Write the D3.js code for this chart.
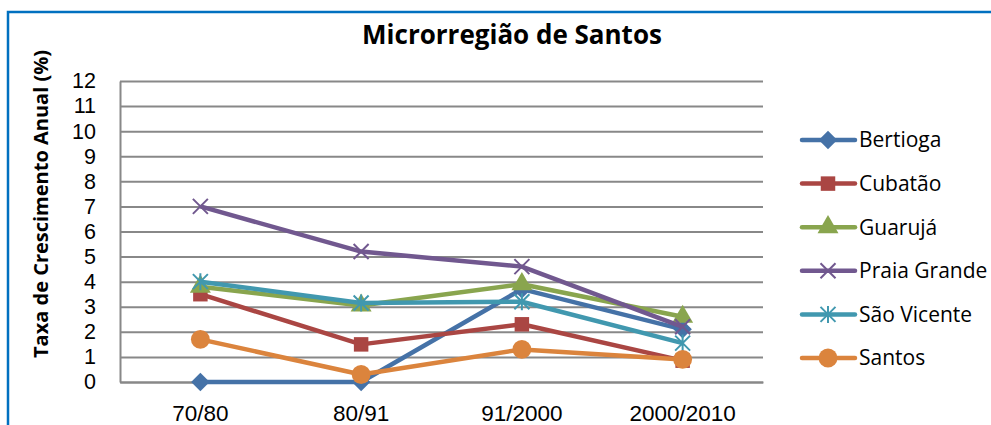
<!DOCTYPE html>
<html>
<head>
<meta charset="utf-8">
<script src="https://cdn.jsdelivr.net/npm/d3@7"></script>
<style>
  body { margin:0; background:#fff; }
  text { font-family: "Open Sans", "Liberation Sans", sans-serif; }
  .tick text { font-family: "Liberation Sans", sans-serif; }
</style>
</head>
<body>
<div id="chart"></div>
<script>
// Microrregião de Santos - d3 line chart

var periods = ["70/80", "80/91", "91/2000", "2000/2010"];
var yTicks = [0,1,2,3,4,5,6,7,8,9,10,11,12];

var bertioga = [0, 0, 3.7, 2.1];
var cubatao = [3.5, 1.5, 2.3, 0.85];
var guaruja = [3.8, 3.05, 3.9, 2.6];
var praiaGrande = [7.0, 5.2, 4.6, 2.2];
var saoVicente = [4.0, 3.15, 3.2, 1.55];
var santos = [1.7, 0.3, 1.3, 0.9];

var names = ["Bertioga", "Cubatão", "Guarujá", "Praia Grande", "São Vicente", "Santos"];
var colors = ["#4572A7", "#AA4643", "#89A54E", "#71588F", "#4198AF", "#DB843D"];
var symbols = ["diamond", "square", "triangle", "x", "star", "circle"];

var series = [bertioga, cubatao, guaruja, praiaGrande, saoVicente, santos].map(function(vals, i){
    return {name:names[i], values:vals, color:colors[i], symbol:symbols[i]};
});

var W = 991, H = 425;
var plot = {left:120, top:81, right:763, bottom:382};

var svg = d3.select("#chart").append("svg")
    .attr("width", W)
    .attr("height", H);

svg.append("rect").attr("width", W).attr("height", H).attr("fill", "#fff");

// outer frame
svg.append("rect")
    .attr("x", 8).attr("y", 12)
    .attr("width", 1000).attr("height", 440)
    .attr("fill", "none")
    .attr("stroke", "#0070C0")
    .attr("stroke-width", 2.5);

var x = d3.scaleBand()
    .domain(periods)
    .range([plot.left, plot.right]);

var y = d3.scaleLinear()
    .domain([0, 12])
    .range([plot.bottom, plot.top]);

//grid lines
svg.append("g")
    .attr("class", "grid")
    .attr("transform", "translate(" + plot.left + ",0)")
    .call(d3.axisLeft(y).tickValues(yTicks)
        .tickSize(-(plot.right - plot.left))
        .tickFormat(""))
    .call(function(g){
        g.select(".domain").remove();
        g.selectAll("line").attr("stroke", "#888").attr("stroke-width", 2);
    });

//y axis
var yAxis = svg.append("g")
    .attr("transform", "translate(" + plot.left + ",0)")
    .call(d3.axisLeft(y).tickValues(yTicks).tickSize(0).tickPadding(24));
yAxis.select(".domain").attr("stroke", "#888").attr("stroke-width", 2);
yAxis.selectAll(".tick text")
    .attr("fill", "#000")
    .style("font-size", "21.5px");

//x axis
var xAxis = svg.append("g")
    .attr("transform", "translate(0," + plot.bottom + ")")
    .call(d3.axisBottom(x).tickSize(0));
xAxis.select(".domain").attr("stroke", "#888").attr("stroke-width", 2);
xAxis.selectAll(".tick text")
    .attr("y", 39)
    .attr("dy", 0)
    .attr("fill", "#000")
    .style("font-size", "22.5px");

//title
svg.append("text")
    .attr("x", 512)
    .attr("y", 44)
    .style("text-anchor", "middle")
    .style("font-size", "26px")
    .style("font-weight", "bold")
    .text("Microrregião de Santos");

svg.append("text")
    .attr("transform", "translate(48,204) rotate(-90)")
    .style("text-anchor", "middle")
    .style("font-size", "20px")
    .style("font-weight", "bold")
    .text("Taxa de Crescimento Anual (%)");

function drawMarker(g, s, cx, cy){
    if(s.symbol == "x" || s.symbol == "star"){
        var r = 7.5;
        var p = "M" + (cx-r) + "," + (cy-r) + "L" + (cx+r) + "," + (cy+r) +
                "M" + (cx-r) + "," + (cy+r) + "L" + (cx+r) + "," + (cy-r);
        if(s.symbol == "star") p += "M" + cx + "," + (cy-r-1) + "L" + cx + "," + (cy+r+1);
        g.append("path")
            .attr("d", p)
            .attr("stroke", s.color)
            .attr("stroke-width", 2)
            .attr("fill", "none");
        return;
    }
    var sym = {diamond:d3.symbolSquare, square:d3.symbolSquare, triangle:d3.symbolTriangle, circle:d3.symbolCircle}[s.symbol];
    var size = {diamond:170, square:210, triangle:190, circle:280}[s.symbol];
    var rot = s.symbol == "diamond" ? " rotate(45)" : "";
    g.append("path")
        .attr("d", d3.symbol().type(sym).size(size)())
        .attr("transform", "translate(" + cx + "," + cy + ")" + rot)
        .attr("fill", s.color);
}

var line = d3.line()
    .x(function(d, i){ return x(periods[i]) + x.bandwidth()/2; })
    .y(function(d){ return y(d); });

//series
series.forEach(function(s){
    var g = svg.append("g");
    g.append("path")
        .attr("d", line(s.values))
        .attr("fill", "none")
        .attr("stroke", s.color)
        .attr("stroke-width", 4.5)
        .attr("stroke-linejoin", "round");
    s.values.forEach(function(v, i){
        drawMarker(g, s, x(periods[i]) + x.bandwidth()/2, y(v));
    });
});

//legend
var legend = svg.append("g");
series.forEach(function(s, i){
    var ly = 140 + i * 43.6;
    var g = legend.append("g");
    g.append("line")
        .attr("x1", 802).attr("x2", 855)
        .attr("y1", ly).attr("y2", ly)
        .attr("stroke", s.color)
        .attr("stroke-width", 4.5)
        .attr("stroke-linecap", "round");
    drawMarker(g, s, 828, ly);
    g.append("text")
        .attr("x", 859)
        .attr("y", ly)
        .attr("dy", "0.35em")
        .style("font-size", "21px")
        .text(s.name);
});
</script>
</body>
</html>
